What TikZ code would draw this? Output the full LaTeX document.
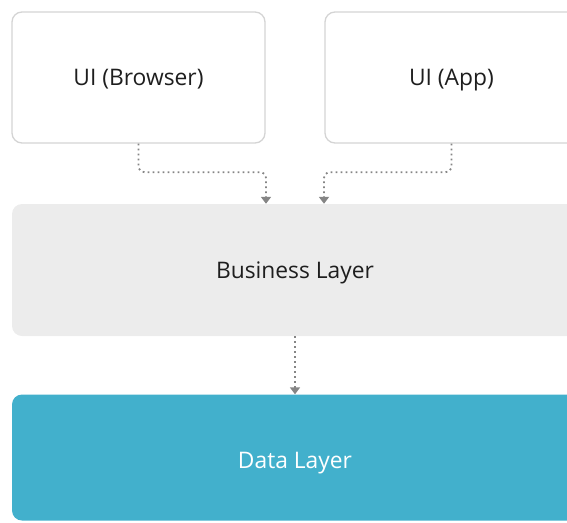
\documentclass[tikz,border=0pt]{standalone}
\usepackage{fontspec}
\setmainfont{Open Sans}
\usetikzlibrary{arrows.meta, positioning}

\definecolor{uiborder}{HTML}{D4D4D4}
\definecolor{bizfill}{HTML}{ECECEC}
\definecolor{datafill}{HTML}{42B0CC}
\definecolor{conngray}{HTML}{858585}
\definecolor{textgray}{HTML}{1E1E1E}

\tikzset{
    uibox/.style={draw=uiborder, line width=1.3pt, fill=white, rounded corners=10pt,
        minimum width=253pt, minimum height=131pt, inner sep=0pt,
        text height=16.2pt, text depth=0pt,
        text=textgray, font=\fontsize{22.8}{27}\selectfont},
    layerbox/.style={rounded corners=10pt, minimum width=566pt, inner sep=0pt,
        text height=16.2pt, text depth=0pt,
        font=\fontsize{22.8}{27}\selectfont},
    conn/.style={conngray, line width=1.8pt, dash pattern=on 1.8pt off 3.2pt,
        rounded corners=6pt, -{Triangle[width=10pt, length=7pt]}}
}

\begin{document}
\begin{tikzpicture}[x=1pt, y=-1pt]
    \clip (0, 0) rectangle (567, 522);
    \node[uibox] (uibrowser) at (138.5, 77.5) {UI (Browser)};
    \node[uibox] (uiapp) at (451.5, 77.5) {UI (App)};
    \node[layerbox, fill=bizfill, text=textgray, minimum height=132pt] (business) at (295, 270) {Business Layer};
    \node[layerbox, fill=datafill, text=white, minimum height=126pt, text height=22.2pt] (data) at (295, 457.5) {Data Layer};
    \draw[conn] (uibrowser.south) -- ++(0, 28.5) -| ([xshift=-29pt]business.north);
    \draw[conn] (uiapp.south) -- ++(0, 28.5) -| ([xshift=29pt]business.north);
    \draw[conn] (business.south) -- (data.north);
\end{tikzpicture}
\end{document}
